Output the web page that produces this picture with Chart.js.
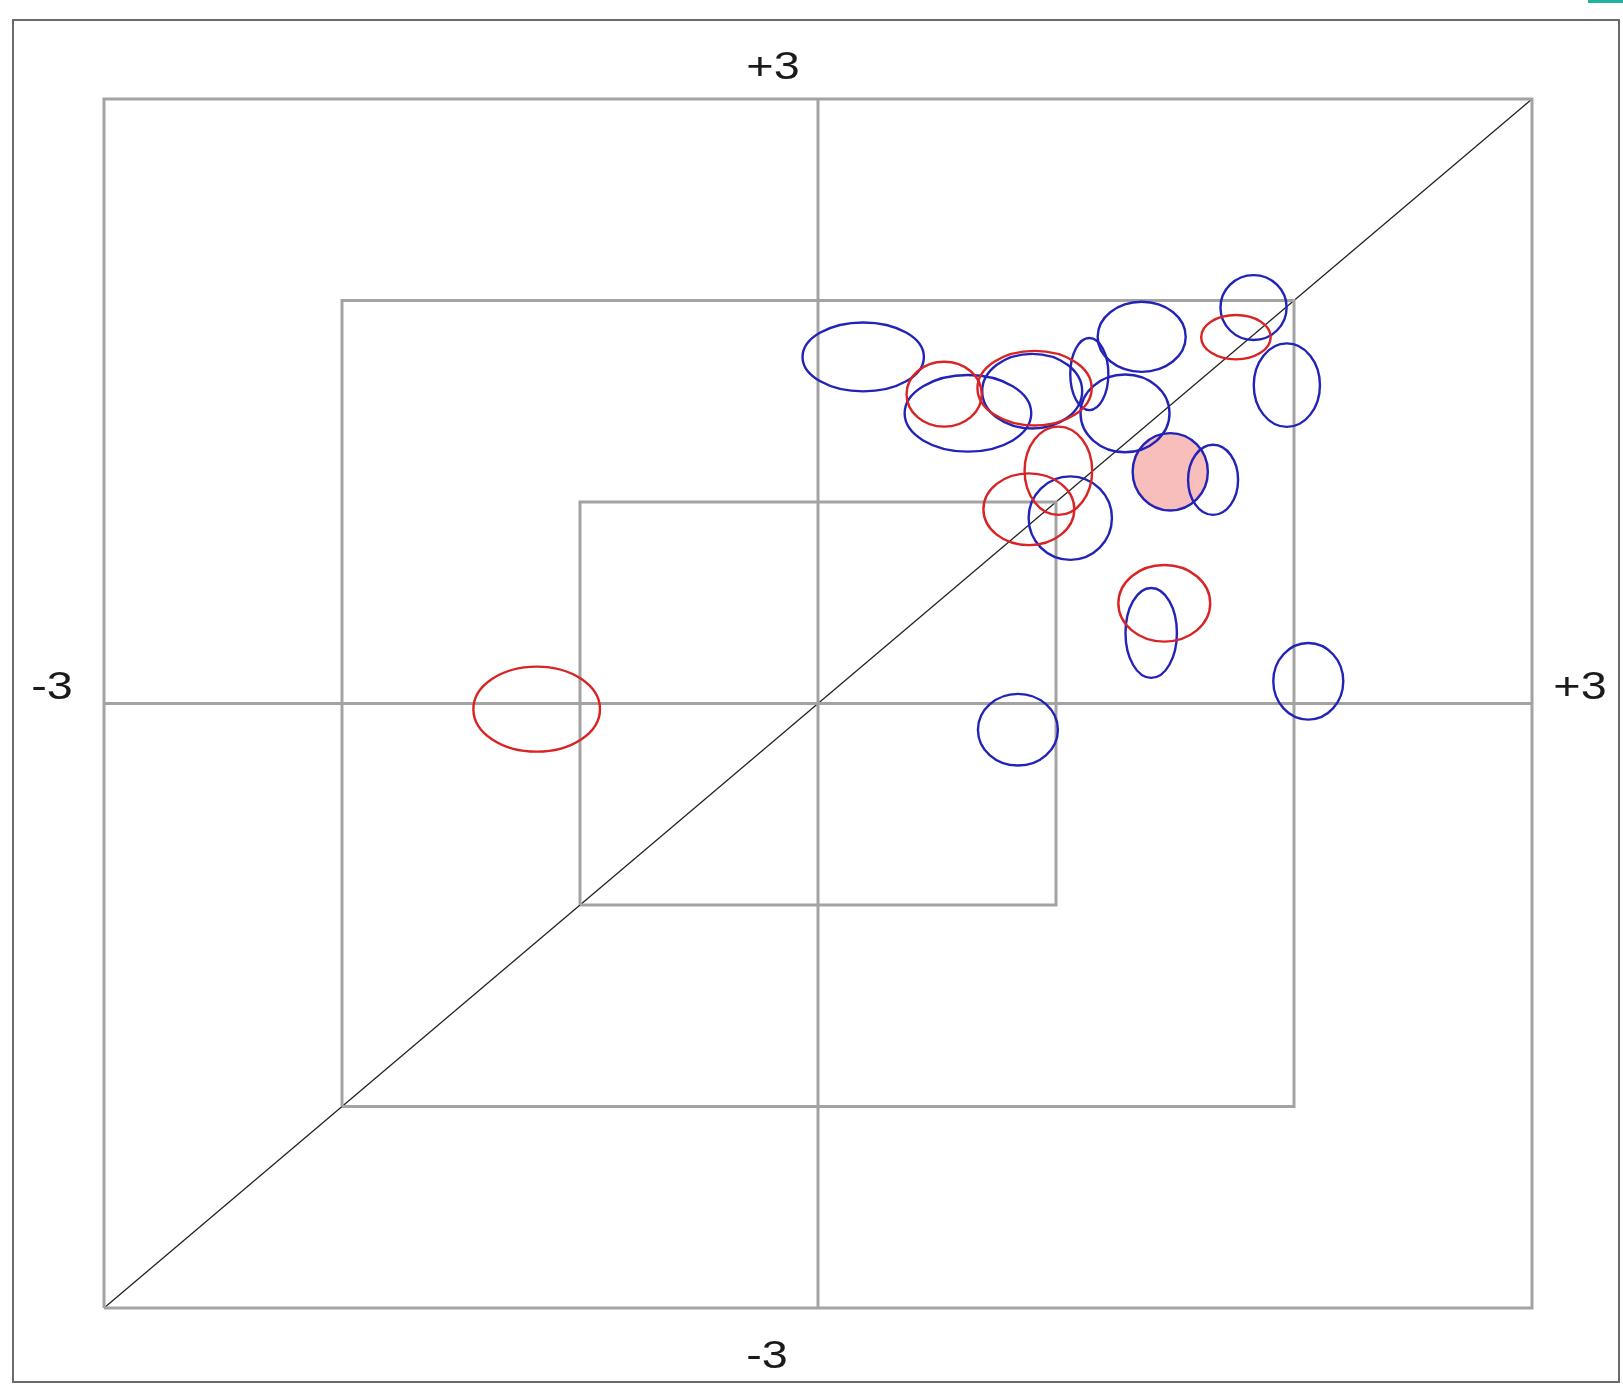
<!DOCTYPE html>
<html>
<head>
<meta charset="utf-8">
<script src="https://cdn.jsdelivr.net/npm/chart.js@4"></script>
<style>
  html, body { margin: 0; padding: 0; background: #fff; }
  #wrap { position: relative; width: 1623px; height: 1387px; overflow: hidden; }
  #frame { position: absolute; left: 12px; top: 19px; width: 1608px; height: 1364px; border: 2px solid #6a6a6a; box-sizing: border-box; pointer-events: none; }
  #tab { position: absolute; left: 1588px; top: 0; width: 35px; height: 3px; background: #1fb3a0; }
  canvas { position: absolute; left: 0; top: 0; }
</style>
</head>
<body>
<div id="wrap">
  <canvas id="ellipseChart" width="1623" height="1387"></canvas>
  <div id="frame"></div>
  <div id="tab"></div>
</div>
<script>
// nested squares at +-1, +-2, +-3 and the axis range
const squareLevels = [1, 2, 3];
const axisMin = -3;
const axisMax = 3;
const edgeLabels = ["+3", "-3", "-3", "+3"]; // top, bottom, left, right

// blue ellipses: centre and half widths, in axis units
const blueX  = [0.19, 0.63, 0.90, 1.14, 1.36, 1.29, 1.83, 1.97, 1.48, 1.66, 1.06, 1.40, 2.06, 0.84];
const blueY  = [1.72, 1.44, 1.55, 1.635, 1.82, 1.44, 1.965, 1.58, 1.15, 1.11, 0.92, 0.35, 0.11, -0.13];
const blueRx = [0.255, 0.266, 0.21, 0.08, 0.185, 0.187, 0.139, 0.139, 0.158, 0.105, 0.175, 0.108, 0.147, 0.168];
const blueRy = [0.171, 0.19, 0.185, 0.179, 0.174, 0.193, 0.161, 0.207, 0.192, 0.174, 0.207, 0.223, 0.19, 0.178];
const blueFilled = [false, false, false, false, false, false, false, false, true, false, false, false, false, false];

// red ellipses
const redX  = [0.53, 0.91, 1.756, 1.01, 0.886, 1.455, -1.182];
const redY  = [1.535, 1.565, 1.818, 1.155, 0.964, 0.497, -0.028];
const redRx = [0.158, 0.24, 0.146, 0.142, 0.191, 0.193, 0.266];
const redRy = [0.161, 0.185, 0.11, 0.219, 0.178, 0.19, 0.211];

const GRID_GRAY = "#a3a3a3";
const BLUE = "#2323b8";
const RED = "#d82424";
const PINK = "rgba(248, 190, 188, 1)";

function toPoints(xs, ys) {
    return xs.map((x, i) => ({ x, y: ys[i] }));
}

function squarePath(level) {
    return [
        { x: -level, y: -level }, { x: level, y: -level },
        { x: level, y: level }, { x: -level, y: level }, { x: -level, y: -level },
    ];
}

const lineBase = { type: "scatter", showLine: true, pointRadius: 0, pointHoverRadius: 0, clip: false, fill: false };

const datasets = [
    ...squareLevels.map(l => ({ ...lineBase, label: `square ${l}`, data: squarePath(l), borderColor: GRID_GRAY, borderWidth: 3 })),
    { ...lineBase, label: "vertical", data: [{ x: 0, y: axisMin }, { x: 0, y: axisMax }], borderColor: GRID_GRAY, borderWidth: 3 },
    { ...lineBase, label: "horizontal", data: [{ x: axisMin, y: 0 }, { x: axisMax, y: 0 }], borderColor: GRID_GRAY, borderWidth: 3 },
    { ...lineBase, label: "diagonal", data: [{ x: axisMin, y: axisMin }, { x: axisMax, y: axisMax }], borderColor: "#222", borderWidth: 1.3 },
    { type: "scatter", label: "blue", data: toPoints(blueX, blueY), pointRadius: 0, clip: false,
      rx: blueRx, ry: blueRy, filled: blueFilled, stroke: BLUE },
    { type: "scatter", label: "red", data: toPoints(redX, redY), pointRadius: 0, clip: false,
      rx: redRx, ry: redRy, filled: redX.map(() => false), stroke: RED },
];

// draws each ellipse at its centre point, radii converted through the scales
const ellipsePlugin = {
    id: "ellipses",
    afterDatasetsDraw(chart) {
        const { ctx, scales: { x, y } } = chart;
        const sets = chart.data.datasets.map((ds, i) => ({ ds, meta: chart.getDatasetMeta(i) })).filter(s => s.ds.rx);
        const shape = (ds, el, j) => {
            const v = ds.data[j];
            const rxPx = Math.abs(x.getPixelForValue(v.x + ds.rx[j]) - x.getPixelForValue(v.x));
            const ryPx = Math.abs(y.getPixelForValue(v.y + ds.ry[j]) - y.getPixelForValue(v.y));
            ctx.beginPath();
            ctx.ellipse(el.x, el.y, rxPx, ryPx, 0, 0, Math.PI * 2);
        };
        ctx.save();
        sets.forEach(({ ds, meta }) => meta.data.forEach((el, j) => {
            if (!ds.filled[j]) return;
            shape(ds, el, j);
            ctx.fillStyle = PINK;
            ctx.fill();
        }));
        ctx.lineWidth = 2.4;
        sets.forEach(({ ds, meta }) => meta.data.forEach((el, j) => {
            shape(ds, el, j);
            ctx.strokeStyle = ds.stroke;
            ctx.stroke();
        }));
        ctx.restore();
    },
};

const edgeLabelPlugin = {
    id: "edgeLabels",
    afterDraw(chart) {
        const { ctx, scales: { x, y } } = chart;
        const cx = x.getPixelForValue(0);
        const cy = y.getPixelForValue(0);
        const spots = [
            [cx - 45, y.top - 31],
            [cx - 51, y.bottom + 49],
            [x.left - 52, cy - 15],
            [x.right + 48, cy - 15],
        ];
        ctx.save();
        ctx.fillStyle = "#1a1a1a";
        ctx.font = "39px 'Liberation Sans', Arial, sans-serif";
        ctx.textAlign = "center";
        ctx.textBaseline = "middle";
        edgeLabels.forEach((t, i) => {
            ctx.save();
            ctx.translate(spots[i][0], spots[i][1]);
            ctx.scale(1.2, 1);
            ctx.fillText(t, 0, 0);
            ctx.restore();
        });
        ctx.restore();
    },
};

new Chart(document.getElementById("ellipseChart").getContext("2d"), {
    type: "scatter",
    data: { datasets },
    options: {
        responsive: false,
        animation: false,
        devicePixelRatio: 1,
        layout: { padding: { left: 104, right: 91, top: 99, bottom: 79 } },
        plugins: { legend: { display: false }, tooltip: { enabled: false } },
        scales: {
            x: { type: "linear", min: axisMin, max: axisMax, display: false },
            y: { type: "linear", min: axisMin, max: axisMax, display: false },
        },
    },
    plugins: [ellipsePlugin, edgeLabelPlugin],
});
</script>
</body>
</html>
